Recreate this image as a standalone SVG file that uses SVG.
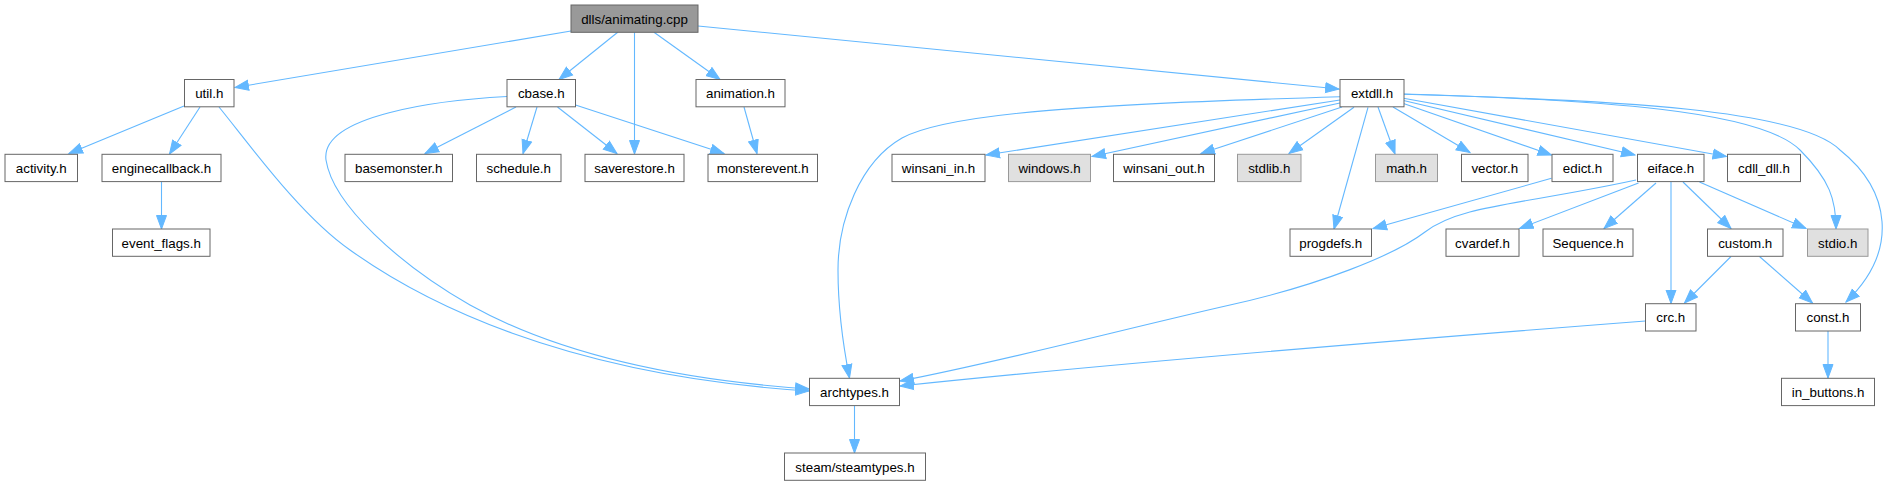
<svg xmlns="http://www.w3.org/2000/svg" width="1892" height="485" viewBox="0 0 1892 485">
<style>
.n rect{fill:#ffffff;stroke:#666666;stroke-width:1}
.g rect{fill:#e0e0e0;stroke:#999999;stroke-width:1}
.r rect{fill:#999999;stroke:#666666;stroke-width:1}
text{font-family:"Liberation Sans",Arial,sans-serif;font-size:13.33px;fill:#000000;text-anchor:middle}
#edges path{fill:none;stroke:#63b8ff;stroke-width:1.1;marker-end:url(#arr)}
</style>
<defs>
<marker id="arr" markerUnits="userSpaceOnUse" markerWidth="16" markerHeight="12" refX="14" refY="6" orient="auto">
<path d="M0.5,1 L14,6 L0.5,11 z" fill="#63b8ff" stroke="#63b8ff" stroke-width="1"/>
</marker>
</defs>
<rect width="1892" height="485" fill="#ffffff"/>
<g id="edges">
<path d="M571,31 L235,87.5"/>
<path d="M618,32 L559,79.5"/>
<path d="M634.5,32.3 L634.5,154"/>
<path d="M654,32.3 L720,79.5"/>
<path d="M698,26 L1339,89"/>
<path d="M184,106 L69,153.5"/>
<path d="M200,107 L169.5,154"/>
<path d="M219,107 C250,145 300,215 350,250 C420,300 560,375 809,391"/>
<path d="M161.5,182 L161.5,229"/>
<path d="M516,107 L425,153.5"/>
<path d="M537,107 L523,153.5"/>
<path d="M557.5,107 L617,153.5"/>
<path d="M575.5,105 L724,153.5"/>
<path d="M507,96.5 C440,100 320,115 326,160 C333,205 400,265 470,305 C560,355 680,380 809,389"/>
<path d="M744,107 L757,153.5"/>
<path d="M1340,96.7 C1100,104 950,112 902,138 C860,162 838,220 838,270 C838,310 843,345 849.5,378"/>
<path d="M1340,100 L986,155"/>
<path d="M1340,103 L1092,156.5"/>
<path d="M1342,107 L1201,153.5"/>
<path d="M1354,107.3 L1289,153.5"/>
<path d="M1368,107.3 L1334,229"/>
<path d="M1378,107 L1395,154"/>
<path d="M1393,107 L1470,152.5"/>
<path d="M1403.5,103.5 L1551.5,155"/>
<path d="M1403.5,100.5 L1635,155"/>
<path d="M1403.5,98.3 L1726.5,156.5"/>
<path d="M1404,94 C1600,100 1760,110 1800,150 C1830,180 1836,200 1836,229"/>
<path d="M1404,94.3 C1620,100 1800,110 1840,150 C1890,190 1900,250 1846,302"/>
<path d="M1551.5,178.3 L1373,228.5"/>
<path d="M1636,180 C1520,205 1460,205 1425,232 C1395,255 1320,285 1230,305 C1120,330 1000,362 900,381"/>
<path d="M1638.5,183 L1519.5,228.5"/>
<path d="M1656,183 L1604,228.5"/>
<path d="M1671,182 L1671,303.5"/>
<path d="M1683,182 L1731,228.5"/>
<path d="M1699.5,182 L1806,228.5"/>
<path d="M1731,256.5 L1684.5,303"/>
<path d="M1759.5,256.5 L1812.5,303"/>
<path d="M1645.5,321 C1400,340 1100,365 900,386"/>
<path d="M1828,331 L1828,378"/>
<path d="M854.5,405.7 L854.5,453"/>
</g>
<g id="node_animating" class="r"><rect x="571" y="5" width="127" height="27.3"/><text x="634.5" y="23.5">dlls/animating.cpp</text></g>
<g id="node_util" class="n"><rect x="184.5" y="79.5" width="49.5" height="27.3"/><text x="209.25" y="98">util.h</text></g>
<g id="node_cbase" class="n"><rect x="507" y="79.5" width="68.5" height="27.3"/><text x="541.25" y="98">cbase.h</text></g>
<g id="node_animation" class="n"><rect x="696" y="79.5" width="89" height="27.3"/><text x="740.5" y="98">animation.h</text></g>
<g id="node_extdll" class="n"><rect x="1340" y="79.5" width="64" height="27.3"/><text x="1372" y="98">extdll.h</text></g>
<g id="node_activity" class="n"><rect x="5" y="154.3" width="72.5" height="27.3"/><text x="41.25" y="172.8">activity.h</text></g>
<g id="node_enginecallback" class="n"><rect x="102" y="154.3" width="119" height="27.3"/><text x="161.5" y="172.8">enginecallback.h</text></g>
<g id="node_basemonster" class="n"><rect x="345" y="154.3" width="107.5" height="27.3"/><text x="398.75" y="172.8">basemonster.h</text></g>
<g id="node_schedule" class="n"><rect x="476.5" y="154.3" width="84.5" height="27.3"/><text x="518.75" y="172.8">schedule.h</text></g>
<g id="node_saverestore" class="n"><rect x="585" y="154.3" width="99" height="27.3"/><text x="634.5" y="172.8">saverestore.h</text></g>
<g id="node_monsterevent" class="n"><rect x="708" y="154.3" width="109.5" height="27.3"/><text x="762.75" y="172.8">monsterevent.h</text></g>
<g id="node_winsani_in" class="n"><rect x="892" y="154.3" width="93" height="27.3"/><text x="938.5" y="172.8">winsani_in.h</text></g>
<g id="node_windows" class="g"><rect x="1008.5" y="154.3" width="82" height="27.3"/><text x="1049.5" y="172.8">windows.h</text></g>
<g id="node_winsani_out" class="n"><rect x="1113.5" y="154.3" width="101" height="27.3"/><text x="1164" y="172.8">winsani_out.h</text></g>
<g id="node_stdlib" class="g"><rect x="1237.5" y="154.3" width="63.5" height="27.3"/><text x="1269.25" y="172.8">stdlib.h</text></g>
<g id="node_math" class="g"><rect x="1375.5" y="154.3" width="62" height="27.3"/><text x="1406.5" y="172.8">math.h</text></g>
<g id="node_vector" class="n"><rect x="1461.5" y="154.3" width="66.5" height="27.3"/><text x="1494.75" y="172.8">vector.h</text></g>
<g id="node_edict" class="n"><rect x="1552" y="154.3" width="61" height="27.3"/><text x="1582.5" y="172.8">edict.h</text></g>
<g id="node_eiface" class="n"><rect x="1637.5" y="154.3" width="66.5" height="27.3"/><text x="1670.75" y="172.8">eiface.h</text></g>
<g id="node_cdll_dll" class="n"><rect x="1727.5" y="154.3" width="73" height="27.3"/><text x="1764" y="172.8">cdll_dll.h</text></g>
<g id="node_event_flags" class="n"><rect x="112.5" y="229" width="97.5" height="27.3"/><text x="161.25" y="247.5">event_flags.h</text></g>
<g id="node_progdefs" class="n"><rect x="1290" y="229" width="81.5" height="27.3"/><text x="1330.75" y="247.5">progdefs.h</text></g>
<g id="node_cvardef" class="n"><rect x="1446" y="229" width="73" height="27.3"/><text x="1482.5" y="247.5">cvardef.h</text></g>
<g id="node_sequence" class="n"><rect x="1543" y="229" width="90" height="27.3"/><text x="1588" y="247.5">Sequence.h</text></g>
<g id="node_custom" class="n"><rect x="1707.5" y="229" width="75.5" height="27.3"/><text x="1745.25" y="247.5">custom.h</text></g>
<g id="node_stdio" class="g"><rect x="1807.5" y="229" width="60.5" height="27.3"/><text x="1837.75" y="247.5">stdio.h</text></g>
<g id="node_crc" class="n"><rect x="1645.5" y="303.7" width="50.5" height="27.3"/><text x="1670.75" y="322.2">crc.h</text></g>
<g id="node_const" class="n"><rect x="1795.5" y="303.7" width="65" height="27.3"/><text x="1828" y="322.2">const.h</text></g>
<g id="node_archtypes" class="n"><rect x="809.5" y="378.3" width="90" height="27.3"/><text x="854.5" y="396.8">archtypes.h</text></g>
<g id="node_in_buttons" class="n"><rect x="1781.5" y="378.3" width="93" height="27.3"/><text x="1828" y="396.8">in_buttons.h</text></g>
<g id="node_steamtypes" class="n"><rect x="784.5" y="453" width="141" height="27.3"/><text x="855" y="471.5">steam/steamtypes.h</text></g>
</svg>
